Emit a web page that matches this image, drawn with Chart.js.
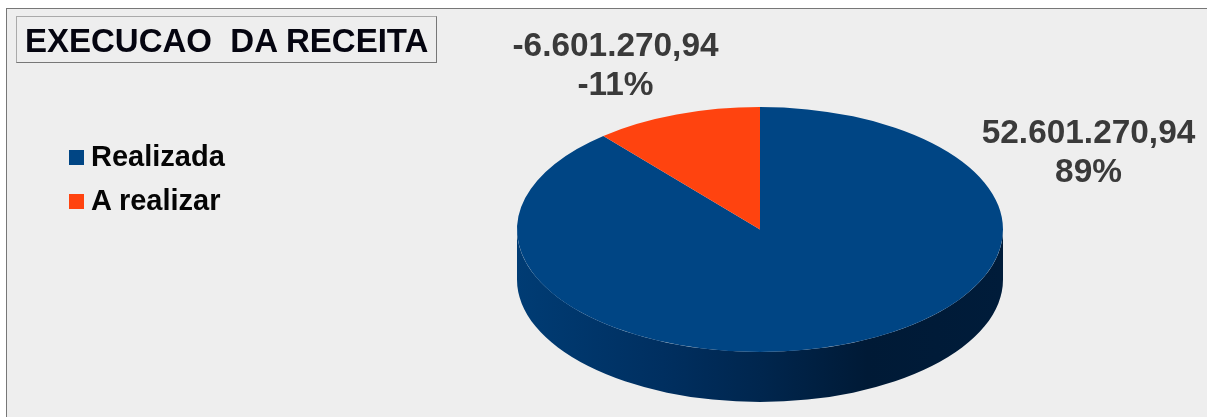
<!DOCTYPE html>
<html lang="pt">
<head>
<meta charset="utf-8">
<title>Execucao da receita</title>
<script src="https://cdn.jsdelivr.net/npm/chart.js@4"></script>
<style>
    html, body { margin: 0; padding: 0; background: #fff; overflow: hidden; }
    #frame {
        position: absolute; left: 6px; top: 8px; width: 1201px; height: 409px;
        box-sizing: border-box; background: #eeeeee;
        border-left: 1px solid #777; border-top: 1px solid #777;
    }
    #pie { position: absolute; left: 0; top: 0; }
    #box-title {
        position: absolute; left: 16px; top: 16px; width: 421px; height: 47px;
        box-sizing: border-box; border: 1px solid #777; border-top-color: #aaa; border-left-color: #aaa;
        font: bold 33px "Liberation Sans", Arial, sans-serif; color: #050510;
        line-height: 47px; padding-left: 8px; white-space: pre;
    }
    #legend {
        position: absolute; left: 69px; top: 135px;
        font: bold 29px "Liberation Sans", Arial, sans-serif; color: #050505;
    }
    .legend-row { display: flex; align-items: center; height: 44px; }
    .legend-box { width: 15px; height: 15px; margin-right: 7px; }
    .legend-name { position: relative; top: -1px; }
</style>
</head>
<body>
<div id="frame"></div>
<canvas id="pie" width="1207" height="417"></canvas>
<div id="box-title"></div>
<div id="legend"></div>

<script>
// Dados do grafico
const chartTitle = 'EXECUCAO  DA RECEITA';
const categories = ['Realizada', 'A realizar'];
const values = [52601270.94, -6601270.94];
const valueLabels = ['52.601.270,94', '-6.601.270,94'];
const percentLabels = ['89%', '-11%'];
const colors = ['#004584', '#ff430f'];

// Aparencia da pizza "3D"
const pieRadius = 243;
const tilt = 0.504;      // achatamento vertical
const depth = 50;        // altura da lateral
const labelSpots = [{ x: 1088.5, y: 143 }, { x: 615.5, y: 56 }];
const labelLineHeight = 39;

// Plugin que achata a pizza e desenha a lateral
const tiltedPie = {
    id: 'tiltedPie',
    beforeDatasetsDraw(chart) {
        const ctx = chart.ctx;
        const arcs = chart.getDatasetMeta(0).data;
        const cx = arcs[0].x, cy = arcs[0].y;
        const ry = pieRadius * tilt;

        const wall = ctx.createLinearGradient(cx - pieRadius, 0, cx + pieRadius, 0);
        wall.addColorStop(0, '#003c74');
        wall.addColorStop(0.3, '#002f60');
        wall.addColorStop(0.5, '#00264e');
        wall.addColorStop(0.72, '#001a36');
        wall.addColorStop(1, '#001c3a');

        // so a metade de baixo aparece
        arcs.forEach(arc => {
            const from = Math.max(arc.startAngle, 0);
            const to = Math.min(arc.endAngle, Math.PI);
            if (to <= from) return;
            ctx.beginPath();
            ctx.ellipse(cx, cy, pieRadius, ry, 0, from, to);
            ctx.ellipse(cx, cy + depth, pieRadius, ry, 0, to, from, true);
            ctx.closePath();
            ctx.fillStyle = wall;
            ctx.fill();
        });

        ctx.save();
        ctx.translate(cx, cy);
        ctx.scale(1, tilt);
        ctx.translate(-cx, -cy);
    },
    afterDatasetsDraw(chart) {
        const ctx = chart.ctx;
        ctx.restore();

        // Rotulos de valor e percentual
        ctx.save();
        ctx.font = 'bold 33.4px "Liberation Sans", Arial, sans-serif';
        ctx.fillStyle = '#3a3a3a';
        ctx.textAlign = 'center';
        ctx.textBaseline = 'alphabetic';
        labelSpots.forEach((spot, i) => {
            ctx.fillText(valueLabels[i], spot.x, spot.y);
            ctx.fillText(percentLabels[i], spot.x, spot.y + labelLineHeight);
        });
        ctx.restore();
    }
};

new Chart(document.getElementById('pie').getContext('2d'), {
    type: 'pie',
    data: {
        labels: categories,
        datasets: [{
            data: values,
            backgroundColor: colors,
            borderWidth: 0,
            clip: false
        }]
    },
    options: {
        responsive: false,
        animation: false,
        radius: pieRadius,
        layout: { padding: { left: 517, right: 204, top: 42, bottom: 0 } },
        plugins: {
            legend: { display: false },
            tooltip: { enabled: false }
        }
    },
    plugins: [tiltedPie]
});

// Titulo e legenda em HTML
document.getElementById('box-title').textContent = chartTitle;
document.getElementById('legend').innerHTML = categories.map((name, i) =>
    `<div class="legend-row"><span class="legend-box" style="background:${colors[i]}"></span><span class="legend-name">${name}</span></div>`
).join('');
</script>
</body>
</html>
